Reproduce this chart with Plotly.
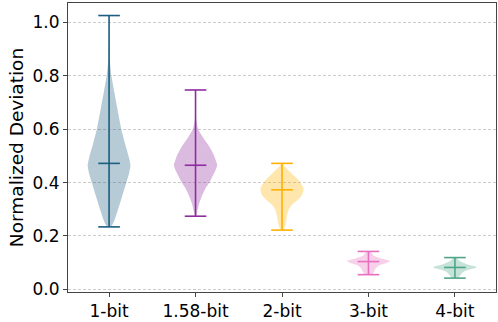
import plotly.graph_objects as go

categories = ["1-bit", "1.58-bit", "2-bit", "3-bit", "4-bit"]
line_colors = ["#1b5e80", "#8e2ca0", "#ffb000", "#e76fbf", "#4fa58a"]

# extremes and centre markers
maxes = [1.026, 0.747, 0.472, 0.142, 0.119]
mins = [0.234, 0.274, 0.222, 0.055, 0.042]
centers = [0.472, 0.465, 0.373, 0.104, 0.082]

# density profiles (value, relative half-width)
prof_1bit_y = [0.234, 0.237, 0.261, 0.298, 0.347, 0.400, 0.433, 0.464, 0.494, 0.543, 0.599, 0.679, 0.740, 0.801, 0.863, 0.95, 1.026]
prof_1bit_w = [0.0, 0.11, 0.26, 0.41, 0.60, 0.80, 0.92, 0.99, 0.92, 0.75, 0.57, 0.38, 0.24, 0.11, 0.03, 0.01, 0.0]
prof_158_y = [0.274, 0.286, 0.317, 0.347, 0.378, 0.402, 0.421, 0.445, 0.464, 0.476, 0.501, 0.525, 0.550, 0.574, 0.601, 0.636, 0.70, 0.747]
prof_158_w = [0.02, 0.06, 0.15, 0.28, 0.46, 0.65, 0.77, 0.92, 1.0, 0.97, 0.86, 0.71, 0.51, 0.31, 0.12, 0.03, 0.01, 0.0]
prof_2bit_y = [0.222, 0.230, 0.249, 0.274, 0.298, 0.317, 0.335, 0.353, 0.372, 0.384, 0.409, 0.433, 0.458, 0.472]
prof_2bit_w = [0.05, 0.11, 0.18, 0.23, 0.31, 0.46, 0.72, 0.92, 1.0, 0.97, 0.77, 0.46, 0.15, 0.03]
prof_3bit_y = [0.055, 0.065, 0.080, 0.092, 0.099, 0.105, 0.108, 0.116, 0.126, 0.142]
prof_3bit_w = [0.15, 0.25, 0.35, 0.55, 0.85, 1.0, 0.97, 0.6, 0.26, 0.08]
prof_4bit_y = [0.042, 0.054, 0.066, 0.075, 0.082, 0.085, 0.094, 0.107, 0.119]
prof_4bit_w = [0.15, 0.26, 0.4, 0.7, 1.0, 0.97, 0.55, 0.2, 0.05]

profiles = [
    (prof_1bit_y, prof_1bit_w),
    (prof_158_y, prof_158_w),
    (prof_2bit_y, prof_2bit_w),
    (prof_3bit_y, prof_3bit_w),
    (prof_4bit_y, prof_4bit_w),
]

HALF = 0.25
CAP = 0.125


def rgba(hex_color, a):
    h = hex_color.lstrip("#")
    r, g, b = int(h[0:2], 16), int(h[2:4], 16), int(h[4:6], 16)
    return f"rgba({r},{g},{b},{a})"


fig = go.Figure()
for i, cat in enumerate(categories):
    pos = i + 1
    ys, ws = profiles[i]
    xs = [pos + HALF * w for w in ws] + [pos - HALF * w for w in reversed(ws)]
    yy = list(ys) + list(reversed(ys))
    fig.add_trace(go.Scatter(
        x=xs, y=yy, mode="lines", fill="toself",
        fillcolor=rgba(line_colors[i], 0.32),
        line=dict(width=0, shape="spline", smoothing=0.5),
        hoverinfo="skip", showlegend=False,
    ))
    lx = [pos, pos, None,
          pos - CAP, pos + CAP, None,
          pos - CAP, pos + CAP, None,
          pos - CAP, pos + CAP]
    ly = [mins[i], maxes[i], None,
          mins[i], mins[i], None,
          maxes[i], maxes[i], None,
          centers[i], centers[i]]
    fig.add_trace(go.Scatter(
        x=lx, y=ly, mode="lines",
        line=dict(color=line_colors[i], width=1.6),
        hoverinfo="skip", showlegend=False,
    ))

fig.update_layout(
    width=498, height=322,
    margin=dict(l=68, r=1, t=3, b=25),
    paper_bgcolor="white", plot_bgcolor="white",
    font=dict(family="DejaVu Sans", size=17, color="black"),
)
fig.update_xaxes(
    range=[0.525, 5.475],
    tickvals=[1, 2, 3, 4, 5], ticktext=categories,
    showgrid=False, zeroline=False,
    showline=True, linecolor="#444", linewidth=1, mirror=True,
    ticks="outside", ticklen=4, tickcolor="#444",
    tickfont=dict(size=17),
)
fig.update_yaxes(
    range=[-0.01, 1.073],
    tickvals=[0.0, 0.2, 0.4, 0.6, 0.8, 1.0],
    ticktext=["0.0", "0.2", "0.4", "0.6", "0.8", "1.0"],
    showgrid=True, gridcolor="#cccccc", griddash="3px,2px", gridwidth=0.8,
    zeroline=False,
    showline=True, linecolor="#444", linewidth=1, mirror=True,
    ticks="outside", ticklen=4, tickcolor="#444",
    tickfont=dict(size=17),
    title=dict(text="Normalized Deviation", font=dict(size=18.5), standoff=4),
)

fig.write_html(
    "out.html",
    config={"displayModeBar": False},
    post_script="document.body.style.margin='0';document.body.style.overflow='hidden';",
)
